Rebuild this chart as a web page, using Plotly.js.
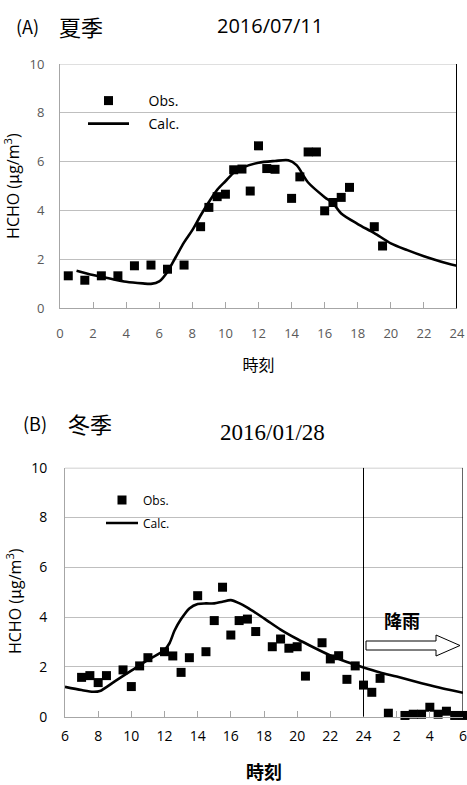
<!DOCTYPE html>
<html><head><meta charset="utf-8">
<script src="https://cdn.plot.ly/plotly-3.0.1.min.js"></script>
<style>html,body{margin:0;padding:0;background:#fff}#chart{width:467px;height:785px}</style>
</head><body><div id="chart"></div>
<script>
// ---- data: (A) summer 2016/07/11 ----
var obsA_t = [0.5,1.5,2.5,3.5,4.5,5.5,6.5,7.5,8.5,9,9.5,10,10.5,11,11.5,12,12.5,13,14,14.5,15,15.5,16,16.5,17,17.5,19,19.5];
var obsA_v = [1.33,1.15,1.33,1.33,1.74,1.77,1.6,1.77,3.34,4.13,4.57,4.67,5.67,5.7,4.8,6.65,5.72,5.69,4.5,5.38,6.4,6.4,3.99,4.33,4.54,4.95,3.34,2.55];
var calA_t = [1,2,3,4,5,5.5,6,6.5,7,7.5,8,8.5,9,9.5,10,10.5,11,12,13,13.8,14.3,15,16,16.5,17,18,19,20,21,22,23,24];
var calA_v = [1.54,1.36,1.22,1.09,1.02,1.0,1.1,1.5,2.1,2.7,3.2,3.8,4.35,4.85,5.2,5.55,5.75,5.96,6.03,6.06,5.86,5.15,4.55,4.3,3.88,3.45,3.08,2.66,2.38,2.13,1.92,1.74];
var ticksA = [0,2,4,6,8,10,12,14,16,18,20,22,24];
var ticksA_text = ['0','2','4','6','8','10','12','14','16','18','20','22','24'];

// ---- data: (B) winter 2016/01/28 ----
var obsB_t = [7,7.5,8,8.5,9.5,10,10.5,11,12,12.5,13,13.5,14,14.5,15,15.5,16,16.5,17,17.5,18.5,19,19.5,20,20.5,21.5,22,22.5,23,23.5,24,24.5,25,25.5,26.5,27,27.5,28,28.5,29,29.5,30];
var obsB_v = [1.58,1.65,1.37,1.65,1.88,1.21,2.04,2.37,2.61,2.44,1.78,2.37,4.86,2.61,3.86,5.2,3.28,3.86,3.92,3.42,2.81,3.12,2.75,2.81,1.63,2.97,2.32,2.45,1.5,2.04,1.27,0.98,1.54,0.14,0.05,0.1,0.1,0.38,0.1,0.22,0.05,0.05];
var calB_t = [6,7,7.7,8.1,9,10,11,12,12.3,12.6,13,13.5,14,14.5,15,15.5,16,16.5,17,18,19,20,21,22,23,24,25,26,27,28,29,30];
var calB_v = [1.2,1.07,1.0,1.03,1.42,1.85,2.28,2.68,2.95,3.45,3.92,4.35,4.53,4.55,4.55,4.62,4.68,4.56,4.38,3.95,3.5,3.12,2.78,2.46,2.2,1.98,1.78,1.61,1.43,1.26,1.1,0.96];
var ticksB = [6,8,10,12,14,16,18,20,22,24,26,28,30];
var ticksB_text = ['6','8','10','12','14','16','18','20','22','24','2','4','6'];
var yTicks = [0,2,4,6,8,10];

var W = 467, H = 785;
function fx(p){ return p / W; }
function fy(p){ return 1 - p / H; }

var pad = '\u00a0\u00a0\u00a0\u00a0';
var yTitle = 'HCHO (<span style="font-family:Noto Sans CJK JP">μ</span>g/m<sup>3</sup>)';

var traces = [
  {x: obsA_t, y: obsA_v, xaxis:'x', yaxis:'y', type:'scatter', mode:'markers', name: pad + 'Obs.', legend:'legend',
   marker:{symbol:'square', size:9, color:'#000'}, cliponaxis:false},
  {x: calA_t, y: calA_v, xaxis:'x', yaxis:'y', type:'scatter', mode:'lines', name: pad + 'Calc.', legend:'legend2',
   line:{color:'#000', width:2.6, shape:'spline', smoothing:0.8}},
  {x: obsB_t, y: obsB_v, xaxis:'x2', yaxis:'y2', type:'scatter', mode:'markers', name:'Obs.', legend:'legend3',
   marker:{symbol:'square', size:9, color:'#000'}, cliponaxis:false},
  {x: calB_t, y: calB_v, xaxis:'x2', yaxis:'y2', type:'scatter', mode:'lines', name:'Calc.', legend:'legend4',
   line:{color:'#000', width:2.6, shape:'spline', smoothing:0.8}}
];

var gray = '#a6a6a6';
var grid = '#bfbfbf';
var legBase = {xanchor:'left', yanchor:'middle', bgcolor:'rgba(0,0,0,0)', borderwidth:0};
function leg(x, y, size, iw){
  return Object.assign({}, legBase, {x: fx(x), y: fy(y), itemwidth: iw,
    font:{family:'Open Sans, sans-serif', size:size, color:'#000'}});
}

var layout = {
  width: W, height: H,
  margin: {l:0, r:0, t:0, b:0},
  paper_bgcolor:'#fff', plot_bgcolor:'rgba(0,0,0,0)',
  showlegend: true,
  xaxis: {domain:[fx(60), fx(457)], range:[0,24], anchor:'y', tickmode:'array', tickvals:ticksA, ticktext:ticksA_text,
    ticks:'inside', ticklen:6, tickcolor:gray, showline:true, linecolor:gray, linewidth:1, showgrid:false, zeroline:false,
    tickfont:{family:'Open Sans, sans-serif', size:13, color:'#595959'}, ticklabelstandoff:13, ticklabeloverflow:'allow',
    title:{text:'時刻', font:{family:'Noto Sans CJK JP', size:16, color:'#000'}, standoff:18}, automargin:false},
  yaxis: {domain:[fy(308.3), fy(64)], range:[0,10], anchor:'x', tickmode:'array', tickvals:yTicks,
    showgrid:true, gridcolor:grid, gridwidth:1, showline:true, linecolor:gray, zeroline:false, ticks:'',
    tickfont:{family:'Open Sans, sans-serif', size:13, color:'#595959'}, ticklabelstandoff:12,
    title:{text:yTitle, font:{family:'Open Sans, sans-serif', size:16, color:'#000'}, standoff:9}, automargin:false},
  xaxis2: {domain:[fx(65), fx(463)], range:[6,30], anchor:'y2', tickmode:'array', tickvals:ticksB, ticktext:ticksB_text,
    ticks:'inside', ticklen:6, tickcolor:gray, showline:true, linecolor:gray, linewidth:1, showgrid:false, zeroline:false,
    tickfont:{family:'Open Sans, sans-serif', size:14, color:'#000'}, ticklabelstandoff:6, ticklabeloverflow:'allow',
    title:{text:'<b>時刻</b>', font:{family:'Noto Sans CJK JP', size:18, color:'#000'}, standoff:22}, automargin:false},
  yaxis2: {domain:[fy(716.7), fy(467.7)], range:[0,10], anchor:'x2', tickmode:'array', tickvals:yTicks,
    showgrid:true, gridcolor:grid, gridwidth:1, showline:true, linecolor:gray, zeroline:false, ticks:'',
    tickfont:{family:'Open Sans, sans-serif', size:14, color:'#000'}, ticklabelstandoff:14, automargin:false},
  legend: leg(83, 101, 14, 41),
  legend2: leg(83, 124, 14, 41),
  legend3: leg(101, 500, 12, 32),
  legend4: leg(101, 523, 12, 32),
  shapes: [
    {type:'line', xref:'x', yref:'y', x0:0, x1:24, y0:10, y1:10, line:{color:grid, width:1}},
    {type:'line', xref:'x', yref:'y', x0:24, x1:24, y0:-0.15, y1:10, line:{color:'#000', width:2}},
    {type:'line', xref:'x2', yref:'y2', x0:6, x1:30, y0:10, y1:10, line:{color:grid, width:1.5}},
    {type:'line', xref:'x2', yref:'y2', x0:24, x1:24, y0:0, y1:10, line:{color:'#000', width:1}},
    {type:'line', xref:'x2', yref:'y2', x0:30, x1:30, y0:0, y1:10, line:{color:'#000', width:1.2}},
    {type:'path', xref:'paper', yref:'paper',
     path: 'M'+fx(366)+','+fy(641)+' L'+fx(436)+','+fy(641)+' L'+fx(436)+','+fy(635)+' L'+fx(460)+','+fy(645.5)+
           ' L'+fx(436)+','+fy(656)+' L'+fx(436)+','+fy(650)+' L'+fx(366)+','+fy(650)+' Z',
     fillcolor:'#fff', line:{color:'#000', width:1}}
  ],
  annotations: [
    {text:'(A)', xref:'paper', yref:'paper', x:fx(14), y:fy(26), xanchor:'left', yanchor:'middle', showarrow:false,
     font:{family:'Noto Sans CJK JP', size:18, color:'#000'}},
    {text:'夏季', xref:'paper', yref:'paper', x:fx(57), y:fy(26), xanchor:'left', yanchor:'middle', showarrow:false,
     font:{family:'Noto Sans CJK JP', size:22, color:'#000'}},
    {text:'2016/07/11', xref:'paper', yref:'paper', x:fx(215), y:fy(26), xanchor:'left', yanchor:'middle', showarrow:false,
     font:{family:'Open Sans, sans-serif', size:20, color:'#000'}},
    {text:'(B)', xref:'paper', yref:'paper', x:fx(21), y:fy(423), xanchor:'left', yanchor:'middle', showarrow:false,
     font:{family:'Noto Sans CJK JP', size:18, color:'#000'}},
    {text:'冬季', xref:'paper', yref:'paper', x:fx(66), y:fy(423), xanchor:'left', yanchor:'middle', showarrow:false,
     font:{family:'Noto Sans CJK JP', size:22, color:'#000'}},
    {text:'2016/01/28', xref:'paper', yref:'paper', x:fx(218), y:fy(432), xanchor:'left', yanchor:'middle', showarrow:false,
     font:{family:'Liberation Serif, serif', size:23, color:'#000'}},
    {text:yTitle, xref:'paper', yref:'paper', x:fx(14), y:fy(601), xanchor:'center', yanchor:'middle', textangle:-90, showarrow:false,
     font:{family:'Open Sans, sans-serif', size:16, color:'#000'}},
    {text:'<b>降雨</b>', xref:'paper', yref:'paper', x:fx(402), y:fy(620), xanchor:'center', yanchor:'middle', showarrow:false,
     font:{family:'Noto Sans CJK JP', size:18, color:'#000'}}
  ]
};

Plotly.newPlot('chart', traces, layout, {staticPlot:true, displayModeBar:false});
</script></body></html>
